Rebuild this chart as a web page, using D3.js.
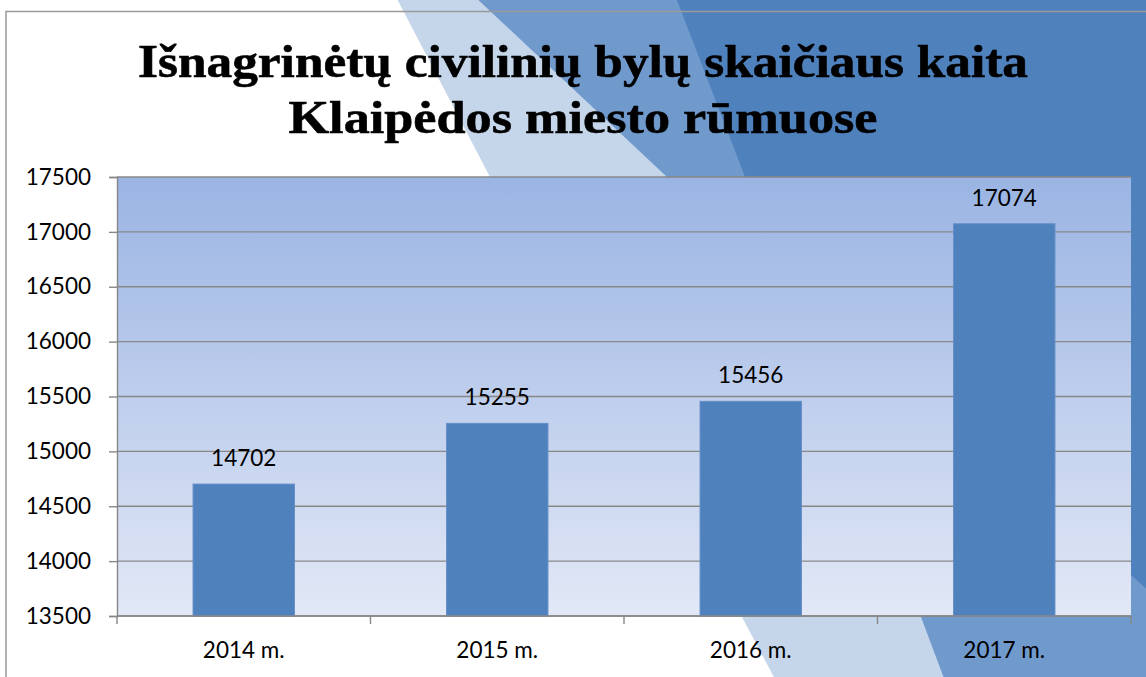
<!DOCTYPE html>
<html><head><meta charset="utf-8">
<script src="https://cdn.jsdelivr.net/npm/d3@7"></script>
<style>html,body{margin:0;padding:0;background:#fff;overflow:hidden}</style>
</head><body>
<svg id="chart" width="1146" height="677"></svg>
<script>
const titleLines = ["Išnagrinėtų civilinių bylų skaičiaus kaita", "Klaipėdos miesto rūmuose"];
const categories = ["2014 m.", "2015 m.", "2016 m.", "2017 m."];
const values = [14702, 15255, 15456, 17074];
const yTicks = [13500, 14000, 14500, 15000, 15500, 16000, 16500, 17000, 17500];

const W = 1146, H = 677;
const plot = {left: 117, right: 1131, top: 177, bottom: 616};
const svg = d3.select("#chart");
const defs = svg.append("defs");

// decorative background bands
const bandLine = d3.line().curve(d3.curveLinear);
function bandPath(edge) {
  return bandLine(edge) + "L" + (W + 5) + "," + (edge[edge.length - 1][1]) + "L" + (W + 5) + ",-5Z";
}
const lightEdge = [[395, -5], [490, 177], [742, 617], [776, 681]];
const mediumEdge = [[473, -5], [667, 177], [921, 617], [945, 681]];
const darkEdge = [[675, -5], [745, 177], [1131, 575], [1150, 592]];
svg.append("path").attr("d", bandPath(lightEdge)).attr("fill", "#c5d6ea");
svg.append("path").attr("d", bandPath(mediumEdge)).attr("fill", "#7099cc");
svg.append("path").attr("d", bandPath(darkEdge)).attr("fill", "#4f81bd");

// chart frame
svg.append("path").attr("d", `M6,${H + 2}V11.5H${W + 2}`)
  .attr("fill", "none").attr("stroke", "#9a9a9a").attr("stroke-width", 1.5);

// plot area gradient
const grad = defs.append("linearGradient").attr("id", "pg").attr("x1", 0).attr("y1", 0).attr("x2", 0).attr("y2", 1);
grad.append("stop").attr("offset", "0%").attr("stop-color", "#9ab4e3");
grad.append("stop").attr("offset", "100%").attr("stop-color", "#e2e8f6");
svg.append("rect").attr("x", plot.left).attr("y", plot.top)
  .attr("width", plot.right - plot.left).attr("height", plot.bottom - plot.top)
  .attr("fill", "url(#pg)");

// scales
const y = d3.scaleLinear().domain([13500, 17500]).range([plot.bottom, plot.top]);
const xSlot = d3.scaleBand().domain(categories).range([plot.left, plot.right]).padding(0);
const x = d3.scaleBand().domain(categories).range([plot.left, plot.right]).paddingInner(0.6).paddingOuter(0.3);

// gridlines
svg.append("g").selectAll("line").data(yTicks).join("line")
  .attr("x1", plot.left).attr("x2", plot.right)
  .attr("y1", d => y(d)).attr("y2", d => y(d))
  .attr("stroke", "#878787").attr("stroke-width", 1.4);

// bars
svg.append("g").selectAll("rect").data(values).join("rect")
  .attr("x", (d, i) => x(categories[i]))
  .attr("y", d => y(d))
  .attr("width", x.bandwidth())
  .attr("height", d => y(13500) - y(d))
  .attr("fill", "#4f81bd").attr("stroke", "#6590c6").attr("stroke-width", 1);

// y axis
const yAxis = svg.append("g").attr("transform", `translate(${plot.left},0)`)
  .call(d3.axisLeft(y).tickValues(yTicks).tickSize(8).tickPadding(18).tickFormat(d3.format("d")));
yAxis.select(".domain").attr("stroke", "#878787").attr("stroke-width", 1.4);
yAxis.selectAll(".tick line").attr("stroke", "#878787").attr("stroke-width", 1.4);
yAxis.selectAll("text").attr("font-family", "Lato, 'Open Sans', sans-serif").attr("font-size", 22.5).attr("fill", "#000");

// x axis
const xAxis = svg.append("g").attr("transform", `translate(0,${plot.bottom})`)
  .call(d3.axisBottom(x).tickSize(0).tickPadding(26));
xAxis.select(".domain").remove();
xAxis.selectAll("text").attr("font-family", "Lato, 'Open Sans', sans-serif").attr("font-size", 22.5).attr("fill", "#000");
svg.append("line").attr("x1", plot.left).attr("x2", plot.right).attr("y1", plot.bottom).attr("y2", plot.bottom)
  .attr("stroke", "#878787").attr("stroke-width", 1.4);
const bounds = categories.map(c => xSlot(c)).concat([plot.right]);
svg.append("g").selectAll("line").data(bounds).join("line")
  .attr("x1", d => d).attr("x2", d => d).attr("y1", plot.bottom).attr("y2", plot.bottom + 8)
  .attr("stroke", "#878787").attr("stroke-width", 1.4);

// data labels
svg.append("g").selectAll("text").data(values).join("text")
  .attr("x", (d, i) => x(categories[i]) + x.bandwidth() / 2)
  .attr("y", d => y(d) - 18)
  .attr("text-anchor", "middle")
  .attr("font-family", "Lato, 'Open Sans', sans-serif").attr("font-size", 22.5).attr("fill", "#000")
  .text(d => d);

// title
const titleWidths = [890, 589];
const titleY = [77, 133];
svg.append("g").selectAll("text").data(titleLines).join("text")
  .attr("x", 583).attr("y", (d, i) => titleY[i])
  .attr("text-anchor", "middle")
  .attr("font-family", "'Liberation Serif', 'DejaVu Serif', serif")
  .attr("font-weight", "bold").attr("font-size", 47).attr("fill", "#000")
  .attr("stroke", "#000").attr("stroke-width", 0.6)
  .attr("textLength", (d, i) => titleWidths[i]).attr("lengthAdjust", "spacingAndGlyphs")
  .text(d => d);
</script>
</body></html>
